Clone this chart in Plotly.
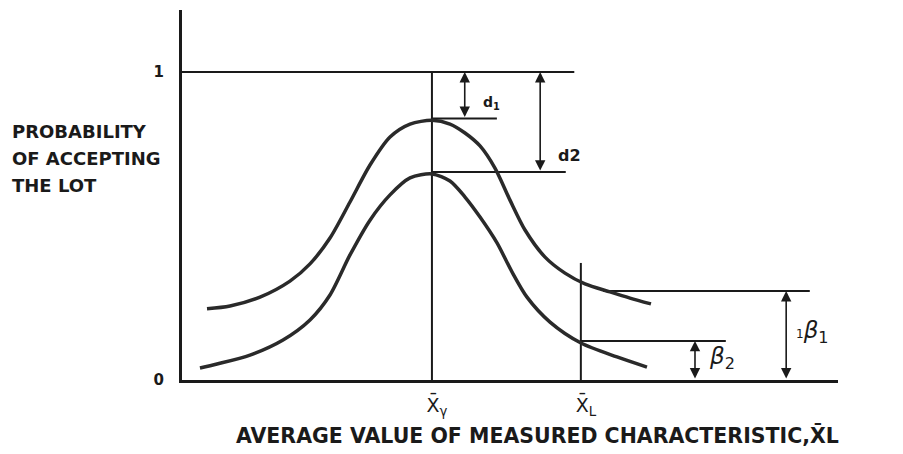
import plotly.graph_objects as go

# ---- data (x: 0..100 along measured characteristic, y: probability) ----
upper_x = [3.81, 7.32, 11.89, 16.46, 19.51, 22.56, 25.61, 28.66, 31.71, 34.76, 38.11, 40.85, 43.14, 45.43, 47.71, 50.0, 52.29, 55.34, 58.38, 61.43, 65.24, 68.29, 71.49]
upper_y = [0.231, 0.240, 0.269, 0.321, 0.377, 0.461, 0.578, 0.698, 0.789, 0.831, 0.843, 0.831, 0.802, 0.760, 0.688, 0.584, 0.487, 0.399, 0.347, 0.312, 0.286, 0.266, 0.247]

lower_x = [2.74, 5.34, 10.37, 15.40, 19.51, 22.56, 25.61, 28.66, 31.71, 34.76, 38.11, 40.85, 43.14, 45.43, 48.02, 50.30, 52.59, 56.10, 60.82, 66.31, 70.88]
lower_y = [0.039, 0.052, 0.081, 0.130, 0.195, 0.276, 0.406, 0.519, 0.601, 0.656, 0.669, 0.646, 0.594, 0.529, 0.445, 0.351, 0.269, 0.188, 0.120, 0.075, 0.042]

x_gamma = 38.1
x_L = 60.8
top_end = 59.8
d1_level, d1_end = 0.849, 48.0
d2_level, d2_end = 0.675, 58.5
b1_level, b1_start, b1_end = 0.289, 64.2, 95.7
b2_level, b2_end = 0.127, 82.9
xL_top = 0.38
arrow_d1_x, arrow_d2_x, arrow_b2_x, arrow_b1_x = 43.1, 54.6, 78.2, 92.1

x_tick_vals = [x_gamma, x_L]
x_tick_text = ["X\u0304<sub>\u03b3</sub>", "X\u0304<sub>L</sub>"]
y_tick_vals = [0, 1]
y_tick_text = ["<b>0</b>", "<b>1</b>"]

y_desc = ["PROBABILITY", "OF ACCEPTING", "THE LOT"]
x_desc = "AVERAGE VALUE OF MEASURED CHARACTERISTIC,X\u0304L"

INK = "#1a1a1a"
FONT = "DejaVu Sans"

fig = go.Figure()

def seg(xs, ys, w=2):
    fig.add_trace(go.Scatter(x=xs, y=ys, mode="lines", line=dict(color=INK, width=w),
                             hoverinfo="skip", showlegend=False))

# reference lines
seg([0, top_end], [1, 1])
seg([x_gamma, x_gamma], [0, 1])
seg([x_L, x_L], [0, xL_top])
seg([x_gamma, d1_end], [d1_level, d1_level])
seg([x_gamma, d2_end], [d2_level, d2_level])
seg([b1_start, b1_end], [b1_level, b1_level])
seg([x_L, b2_end], [b2_level, b2_level])

# OC curves
for cx, cy in [(upper_x, upper_y), (lower_x, lower_y)]:
    fig.add_trace(go.Scatter(x=cx, y=cy, mode="lines",
                             line=dict(color="#2a2a2a", width=3.5, shape="spline", smoothing=0.8),
                             hoverinfo="skip", showlegend=False))

def darrow(x, y0, y1):
    fig.add_annotation(x=x, y=y1, ax=x, ay=y0, xref="x", yref="y", axref="x", ayref="y",
                       text="", showarrow=True, arrowside="end+start", arrowhead=2,
                       arrowsize=1.3, arrowwidth=1.6, arrowcolor=INK, standoff=0, startstandoff=0)

darrow(arrow_d1_x, d1_level, 1)
darrow(arrow_d2_x, d2_level, 1)
darrow(arrow_b2_x, 0, b2_level)
darrow(arrow_b1_x, 0, b1_level)

def label(x, y, text, size, anchor="center"):
    fig.add_annotation(x=x, y=y, xref="x", yref="y", text=text, showarrow=False,
                       xanchor=anchor, yanchor="middle", font=dict(family=FONT, size=size, color=INK))

label(45.6, 0.899, "<b>d<sub>1</sub></b>", 14, "left")
label(57.0, 0.730, "<b>d2</b>", 16, "left")
label(80.0, 0.071, "<i>\u03b2</i><sub>2</sub>", 23, "left")
label(93.3, 0.156, "<span style='font-size:12px'>1</span><i>\u03b2</i><sub>1</sub>", 23, "left")

# y-axis description (paper coordinates, plot area spans px 10..380 vertically, 182..838 horizontally)
for txt, py in zip(y_desc, [131, 158, 185]):
    fig.add_annotation(x=(10 - 182) / 656, y=(380 - py) / 370, xref="paper", yref="paper",
                       text="<b>" + txt + "</b>", showarrow=False, xanchor="left", yanchor="middle",
                       font=dict(family=FONT, size=18, color=INK))

# x-axis description
fig.add_annotation(x=(537 - 182) / 656, y=(380 - 435) / 370, xref="paper", yref="paper",
                   text="<b>" + x_desc + "</b>", showarrow=False, xanchor="center", yanchor="middle",
                   font=dict(family=FONT, size=20.5, color=INK))

fig.update_layout(
    width=903, height=454,
    margin=dict(l=182, r=65, t=10, b=74),
    paper_bgcolor="white", plot_bgcolor="white",
    xaxis=dict(range=[0, 100], showline=True, linewidth=3, linecolor=INK, showgrid=False, zeroline=False,
               tickmode="array", tickvals=x_tick_vals, ticktext=x_tick_text, ticks="",
               ticklabelstandoff=6, ticklabelshift=5,
               tickfont=dict(family=FONT, size=19, color=INK)),
    yaxis=dict(range=[0, 370 / 308], showline=True, linewidth=3, linecolor=INK, showgrid=False, zeroline=False,
               tickmode="array", tickvals=y_tick_vals, ticktext=y_tick_text, ticks="",
               ticklabelstandoff=12,
               tickfont=dict(family=FONT, size=15, color=INK)),
)

fig.write_html("out.html")
